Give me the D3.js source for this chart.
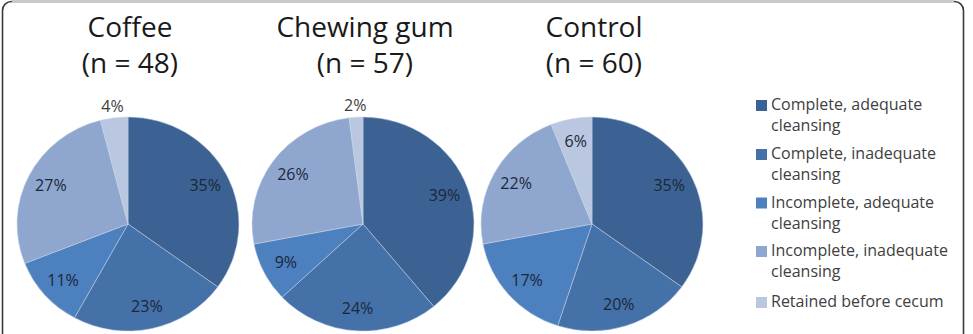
<!DOCTYPE html>
<html>
<head>
<meta charset="utf-8">
<script src="https://cdn.jsdelivr.net/npm/d3@7"></script>
<style>
  html, body { margin: 0; padding: 0; background: #fff; }
  svg { display: block; }
</style>
</head>
<body>
<svg id="chart" width="973" height="334"></svg>
<script>
// ---- data ----
const groups = ["Coffee", "Chewing gum", "Control"];
const groupN = [48, 57, 60];
const outcomes = [
  "Complete, adequate cleansing",
  "Complete, inadequate cleansing",
  "Incomplete, adequate cleansing",
  "Incomplete, inadequate cleansing",
  "Retained before cecum"
];
const coffeeValues = [35, 23, 11, 27, 4];
const gumValues = [39, 24, 9, 26, 2];
const controlValues = [35, 20, 17, 22, 6];
const legendLines = [
  ["Complete, adequate", "cleansing"],
  ["Complete, inadequate", "cleansing"],
  ["Incomplete, adequate", "cleansing"],
  ["Incomplete, inadequate", "cleansing"],
  ["Retained before cecum"]
];

const seriesValues = [coffeeValues, gumValues, controlValues];

// ---- styling ----
const colors = d3.scaleOrdinal()
  .domain(outcomes)
  .range(["#3b6293", "#4571a9", "#4c80bf", "#8fa7cf", "#b9c7e0"]);

const cxScale = d3.scaleOrdinal().domain(groups).range([128, 363, 592]);
const cy = 224;
const rx = 111, ry = 107;

const svg = d3.select("#chart");

// frame
const frame = svg.append("g");
frame.append("rect")
  .attr("x", 2.5).attr("y", 1.5)
  .attr("width", 961).attr("height", 360)
  .attr("rx", 9).attr("ry", 9)
  .attr("fill", "#fff")
  .attr("stroke", "#3a3a3a")
  .attr("stroke-width", 1.6);
frame.append("line")
  .attr("x1", 12).attr("x2", 954)
  .attr("y1", 1.5).attr("y2", 1.5)
  .attr("stroke", "#c8c8c8")
  .attr("stroke-width", 1.8);

const pie = d3.pie().sort(null).value(d => d.value);
const arc = d3.arc().innerRadius(0).outerRadius(rx);

groups.forEach((g, gi) => {
  const cx = cxScale(g);
  const data = outcomes.map((o, i) => ({ key: o, value: seriesValues[gi][i] }));
  const arcs = pie(data);

  // titles
  const title = svg.append("text")
    .attr("x", cx + 2)
    .attr("text-anchor", "middle")
    .attr("font-family", "'Open Sans', sans-serif")
    .attr("font-size", 28)
    .attr("fill", "#1a1a1a");
  title.append("tspan").attr("x", cx + 2).attr("y", 37).text(g);
  title.append("tspan").attr("x", cx + 2).attr("y", 73).text("(n = " + groupN[gi] + ")");

  // pie (slightly squashed vertically, as in the reference)
  const pg = svg.append("g")
    .attr("transform", `translate(${cx},${cy}) scale(1,${ry / rx})`);
  pg.selectAll("path")
    .data(arcs)
    .join("path")
    .attr("d", arc)
    .attr("fill", d => colors(d.data.key))
    .attr("stroke", "#c9d4e6")
    .attr("stroke-width", 0.5);

  // labels
  svg.append("g").selectAll("text")
    .data(arcs)
    .join("text")
    .attr("x", d => {
      const a = (d.startAngle + d.endAngle) / 2;
      const k = d.data.value < 5 ? 1.11 : 0.78;
      return cx + Math.sin(a) * rx * k;
    })
    .attr("y", d => {
      const a = (d.startAngle + d.endAngle) / 2;
      const k = d.data.value < 5 ? 1.11 : 0.79;
      return cy - Math.cos(a) * ry * k;
    })
    .attr("dy", "0.36em")
    .attr("text-anchor", "middle")
    .attr("font-family", "'Open Sans', sans-serif")
    .attr("font-size", 16)
    .attr("fill", d => d.data.value < 5 ? "#404040" : "#1b273a")
    .text(d => d.data.value + "%");
});

// legend
const legendY = d3.scaleOrdinal().domain(outcomes).range([110, 159, 207.5, 256, 307]);
const lg = svg.append("g");
outcomes.forEach((o, i) => {
  const y = legendY(o);
  lg.append("rect")
    .attr("x", 756).attr("y", y - 10)
    .attr("width", 11).attr("height", 11)
    .attr("fill", colors(o));
  const t = lg.append("text")
    .attr("font-family", "'Open Sans', sans-serif")
    .attr("font-size", 16)
    .attr("fill", "#404040");
  legendLines[i].forEach((line, li) => {
    t.append("tspan").attr("x", 771).attr("y", y + li * 21).text(line);
  });
});
</script>
</body>
</html>
